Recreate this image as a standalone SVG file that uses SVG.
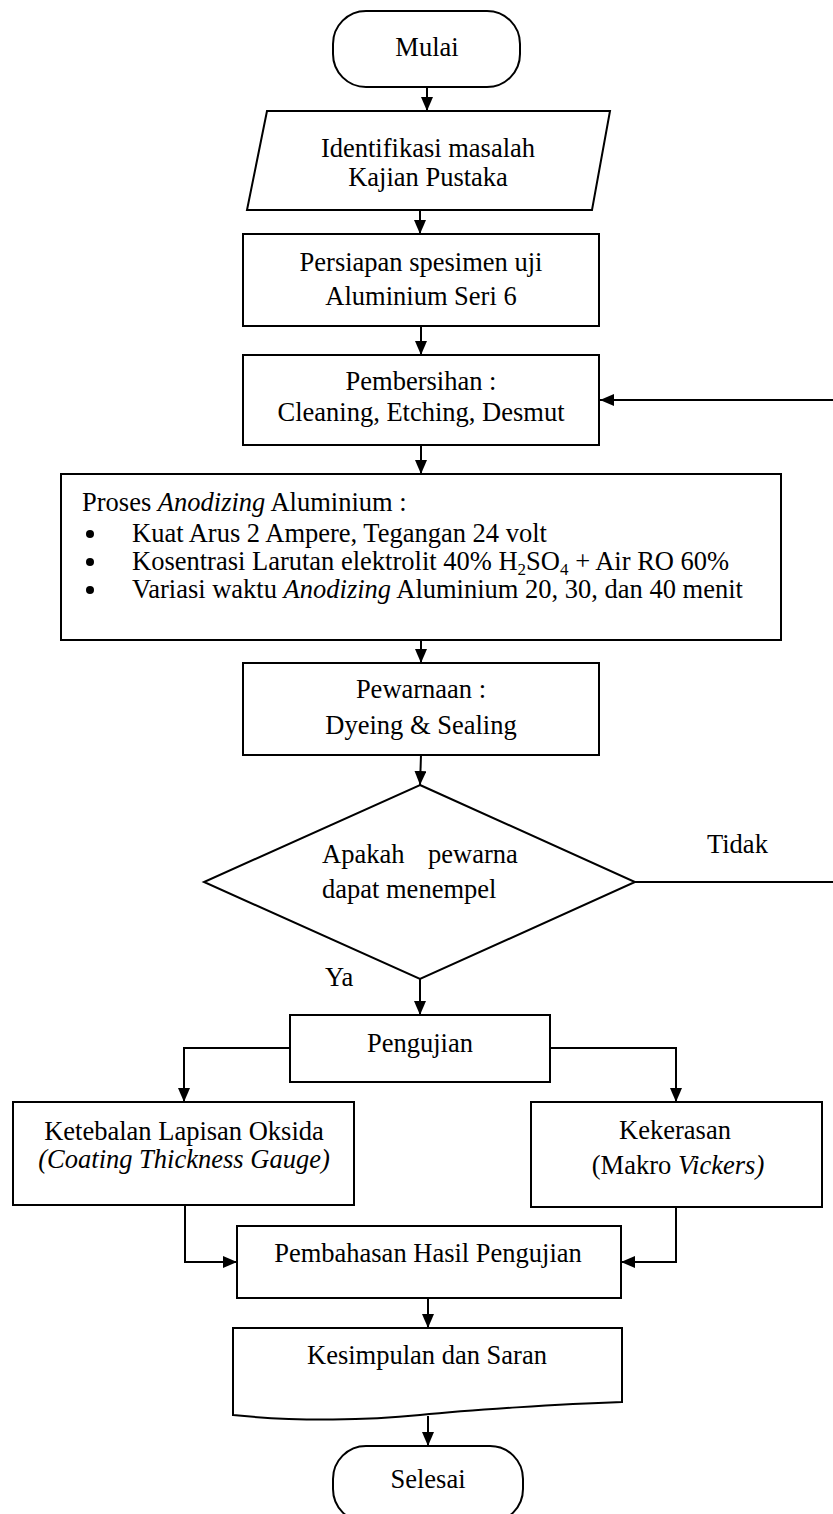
<svg xmlns="http://www.w3.org/2000/svg" width="833" height="1514" viewBox="0 0 833 1514">
<style>
.shape{fill:#fff;stroke:#000;stroke-width:2}
.conn{fill:none;stroke:#000;stroke-width:2}
.bullet{fill:#000}
text{font-family:"Liberation Serif","Times New Roman",serif;font-size:26.5px;fill:#000}
.c{text-anchor:middle}
.i{font-style:italic}
.sub{font-size:17px;baseline-shift:-5px}
</style>
<defs>
<marker id="arr" markerWidth="14" markerHeight="12" refX="14" refY="6" orient="auto" markerUnits="userSpaceOnUse">
<path d="M0,0 L14,6 L0,12 z" fill="#000"/>
</marker>
</defs>
<rect width="833" height="1514" fill="#fff"/>
<g id="connectors">
<path class="conn" d="M427,87 V111" marker-end="url(#arr)"/>
<path class="conn" d="M420,210 V234" marker-end="url(#arr)"/>
<path class="conn" d="M421,326 V355" marker-end="url(#arr)"/>
<path class="conn" d="M421,445 V474" marker-end="url(#arr)"/>
<path class="conn" d="M421,640 V663" marker-end="url(#arr)"/>
<path class="conn" d="M421,755 L420,785" marker-end="url(#arr)"/>
<path class="conn" d="M420,979 V1015" marker-end="url(#arr)"/>
<path class="conn" d="M290,1048 H184 V1102" marker-end="url(#arr)"/>
<path class="conn" d="M550,1048 H676 V1102" marker-end="url(#arr)"/>
<path class="conn" d="M185,1205 V1262 H237" marker-end="url(#arr)"/>
<path class="conn" d="M676,1207 V1262 H621" marker-end="url(#arr)"/>
<path class="conn" d="M428,1298 V1328" marker-end="url(#arr)"/>
<path class="conn" d="M428,1416 V1446" marker-end="url(#arr)"/>
<path class="conn" d="M635,882 H835 V400 H600" marker-end="url(#arr)"/>
</g>
<g id="mulai">
<rect class="shape" x="333" y="11" width="187" height="76" rx="33" ry="33"/>
<text class="c" x="427" y="56">Mulai</text>
</g>
<g id="identifikasi">
<polygon class="shape" points="267,111 610,111 592,210 247,210"/>
<text class="c" x="428" y="157">Identifikasi masalah</text>
<text class="c" x="428" y="186">Kajian Pustaka</text>
</g>
<g id="persiapan">
<rect class="shape" x="243" y="234" width="356" height="92"/>
<text class="c" x="421" y="271">Persiapan spesimen uji</text>
<text class="c" x="421" y="305">Aluminium Seri 6</text>
</g>
<g id="pembersihan">
<rect class="shape" x="243" y="355" width="356" height="90"/>
<text class="c" x="421" y="390">Pembersihan :</text>
<text class="c" x="421" y="421">Cleaning, Etching, Desmut</text>
</g>
<g id="proses">
<rect class="shape" x="61" y="474" width="720" height="166"/>
<text x="82" y="511">Proses <tspan class="i">Anodizing</tspan> Aluminium :</text>
<circle class="bullet" cx="90" cy="534" r="4"/>
<text x="132" y="542">Kuat Arus 2 Ampere, Tegangan 24 volt</text>
<circle class="bullet" cx="90" cy="562" r="4"/>
<text x="132" y="570">Kosentrasi Larutan elektrolit 40% H<tspan class="sub">2</tspan>SO<tspan class="sub">4</tspan> + Air RO 60%</text>
<circle class="bullet" cx="90" cy="590" r="4"/>
<text x="132" y="598">Variasi waktu <tspan class="i">Anodizing</tspan> Aluminium 20, 30, dan 40 menit</text>
</g>
<g id="pewarnaan">
<rect class="shape" x="243" y="663" width="356" height="92"/>
<text class="c" x="421" y="698">Pewarnaan :</text>
<text class="c" x="421" y="734">Dyeing &amp; Sealing</text>
</g>
<g id="keputusan">
<polygon class="shape" points="420,785 635,882 420,979 204,882"/>
<text x="322" y="863">Apakah<tspan x="428">pewarna</tspan></text>
<text x="322" y="898">dapat menempel</text>
</g>
<g id="label-tidak">
<text x="707" y="853">Tidak</text>
</g>
<g id="label-ya">
<text x="325" y="986">Ya</text>
</g>
<g id="pengujian">
<rect class="shape" x="290" y="1015" width="260" height="67"/>
<text class="c" x="420" y="1052">Pengujian</text>
</g>
<g id="ketebalan">
<rect class="shape" x="13" y="1102" width="341" height="103"/>
<text class="c" x="184" y="1140">Ketebalan Lapisan Oksida</text>
<text class="c i" x="184" y="1168">(Coating Thickness Gauge)</text>
</g>
<g id="kekerasan">
<rect class="shape" x="531" y="1102" width="291" height="105"/>
<text class="c" x="675" y="1139">Kekerasan</text>
<text class="c" x="678" y="1174">(Makro <tspan class="i">Vickers)</tspan></text>
</g>
<g id="pembahasan">
<rect class="shape" x="237" y="1226" width="384" height="72"/>
<text class="c" x="428" y="1262">Pembahasan Hasil Pengujian</text>
</g>
<g id="kesimpulan">
<path class="shape" d="M233,1328 H622 V1402 C560,1404 470,1410 420,1415 C370,1420 300,1422 233,1415 Z"/>
<text class="c" x="427" y="1364">Kesimpulan dan Saran</text>
</g>
<g id="selesai">
<rect class="shape" x="333" y="1446" width="190" height="76" rx="33" ry="33"/>
<text class="c" x="428" y="1488">Selesai</text>
</g>
</svg>
